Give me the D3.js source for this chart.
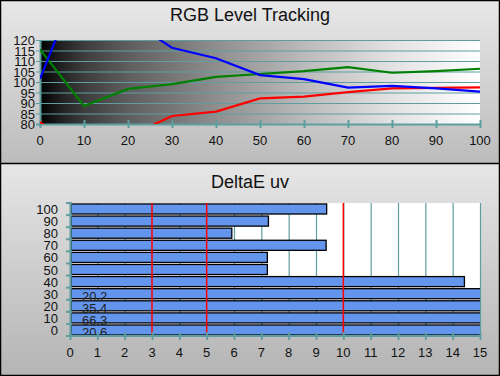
<!DOCTYPE html>
<html><head><meta charset="utf-8">
<script src="https://cdn.jsdelivr.net/npm/d3@7"></script>
<style>html,body{margin:0;padding:0;background:#fff}svg{display:block;font-family:"Liberation Sans",Arial,sans-serif}</style>
</head><body>
<script>
// ---- data ----
const levels = [0,10,20,30,40,50,60,70,80,90,100];
const redVals   = [81, 65, 74, 83.8, 85.9, 92.2, 93.0, 95.2, 97.0, 97.2, 97.4];
const greenVals = [115.5, 88.6, 96.7, 99.0, 102.4, 103.8, 105.2, 107.1, 104.4, 105.2, 106.3];
const blueVals  = [101.5, 154, 130, 116.3, 111.3, 103.3, 101.4, 97.3, 98.2, 97.0, 95.4];
const yTicksTop = [80,85,90,95,100,105,110,115,120];
const deCats = [0,10,20,30,40,50,60,70,80,90,100];
const deVals = [20.6, 66.3, 35.4, 20.2, 14.43, 7.22, 7.22, 9.37, 5.92, 7.26, 9.39];
const deTicks = d3.range(0,16);
const refLines = [3,5,10];

const W=500,H=376, teal="#5f9ea0";
const svg=d3.select("body").append("svg").attr("width",W).attr("height",H);
const defs=svg.append("defs");

function vgrad(id,c1,c2){const g=defs.append("linearGradient").attr("id",id).attr("x1",0).attr("y1",0).attr("x2",0).attr("y2",1);
 g.append("stop").attr("offset",0).attr("stop-color",c1);g.append("stop").attr("offset",1).attr("stop-color",c2);}
vgrad("bgTop","#e8e8e8","#bcbcbc");
vgrad("bgBot","#e6e6e6","#b4b4b4");
const hg=defs.append("linearGradient").attr("id","plotG").attr("x1",0).attr("y1",0).attr("x2",1).attr("y2",0);
[[0,"#000"],[0.05,"#222"],[0.1,"#3c3c3c"],[0.2,"#5e5e5e"],[0.4,"#8e8e8e"],[0.6,"#bababa"],[0.8,"#e2e2e2"],[1,"#fff"]]
 .forEach(([o,c])=>hg.append("stop").attr("offset",o).attr("stop-color",c));

svg.append("rect").attr("x",0).attr("y",0).attr("width",W).attr("height",163).attr("fill","url(#bgTop)");
svg.append("rect").attr("x",0).attr("y",163).attr("width",W).attr("height",H-163).attr("fill","url(#bgBot)");

// ---- top chart ----
const x1=d3.scaleLinear().domain([0,100]).range([40,480]);
const y1=d3.scaleLinear().domain([80,120]).range([124,40]);
svg.append("text").attr("x",250).attr("y",21).attr("text-anchor","middle").attr("font-size",18).attr("fill","#111").text("RGB Level Tracking");
svg.append("rect").attr("x",x1(0)).attr("y",y1(120)).attr("width",x1(100)-x1(0)).attr("height",y1(80)-y1(120)).attr("fill","url(#plotG)");
const gT=svg.append("g");
gT.selectAll("line.gy").data(yTicksTop).join("line").attr("x1",36).attr("x2",x1(100)).attr("y1",d=>y1(d)+0.5).attr("y2",d=>y1(d)+0.5).attr("stroke",teal).attr("stroke-width",d=>d===80?2:1.2);
gT.append("line").attr("x1",x1(0)+0.5).attr("x2",x1(0)+0.5).attr("y1",y1(120)).attr("y2",y1(80)+3).attr("stroke",teal).attr("stroke-width",2);
gT.selectAll("line.tx").data(levels).join("line").attr("x1",d=>x1(d)+0.5).attr("x2",d=>x1(d)+0.5).attr("y1",y1(80)-4).attr("y2",y1(80)+4).attr("stroke",teal).attr("stroke-width",2);
gT.selectAll("text.yl").data(yTicksTop).join("text").attr("x",35).attr("y",d=>y1(d)+5).attr("text-anchor","end").attr("font-size",13).attr("fill","#111").text(d=>d);
gT.selectAll("text.xl").data(levels).join("text").attr("x",d=>x1(d)).attr("y",145).attr("text-anchor","middle").attr("font-size",13).attr("fill","#111").text(d=>d);
defs.append("clipPath").attr("id","clipTop").append("rect").attr("x",x1(0)).attr("y",y1(120)).attr("width",x1(100)-x1(0)).attr("height",y1(80)-y1(120));
const line=d3.line().x((d,i)=>x1(levels[i])).y(d=>y1(d));
const lg=svg.append("g").attr("clip-path","url(#clipTop)");
[[greenVals,"#008000"],[redVals,"#ff0000"],[blueVals,"#0000ff"]].forEach(([v,c])=>
 lg.append("path").attr("d",line(v)).attr("fill","none").attr("stroke",c).attr("stroke-width",2.2));

// ---- bottom chart ----
const x2=d3.scaleLinear().domain([0,15]).range([70,480]);
const y2=d3.scaleBand().domain(deCats.slice().reverse()).range([203,336]).paddingInner(0.17).paddingOuter(0.08);
svg.append("text").attr("x",250).attr("y",188).attr("text-anchor","middle").attr("font-size",18).attr("fill","#111").text("DeltaE uv");
svg.append("rect").attr("x",x2(0)).attr("y",203).attr("width",x2(15)-x2(0)).attr("height",133).attr("fill","#fff");
const gB=svg.append("g");
gB.selectAll("line.gx").data(deTicks).join("line").attr("x1",d=>x2(d)+0.5).attr("x2",d=>x2(d)+0.5).attr("y1",203).attr("y2",336).attr("stroke",teal).attr("stroke-width",1.2);
defs.append("clipPath").attr("id","clipBot").append("rect").attr("x",x2(0)).attr("y",200).attr("width",x2(15)-x2(0)).attr("height",140);
gB.append("g").attr("clip-path","url(#clipBot)").selectAll("rect").data(deVals).join("rect")
 .attr("x",x2(0)+1).attr("y",(d,i)=>y2(deCats[i])).attr("height",y2.bandwidth())
 .attr("width",d=>x2(d)-x2(0)-1).attr("fill","#6495ed").attr("stroke","#000").attr("stroke-width",1.3);
gB.selectAll("line.rl").data(refLines).join("line").attr("x1",d=>x2(d)).attr("x2",d=>x2(d)).attr("y1",203).attr("y2",336).attr("stroke","#ff0000").attr("stroke-width",1.5);
gB.selectAll("text.ov").data(deVals.map((v,i)=>({v,c:deCats[i]})).filter(d=>d.v>15)).join("text")
 .attr("x",82).attr("y",d=>y2(d.c)+y2.bandwidth()/2+7).attr("font-size",13).attr("fill","#222").text(d=>d.v.toFixed(1));
// axes
gB.append("line").attr("x1",x2(0)).attr("x2",x2(15)+1).attr("y1",336).attr("y2",336).attr("stroke",teal).attr("stroke-width",2);
gB.append("line").attr("x1",x2(0)+0.5).attr("x2",x2(0)+0.5).attr("y1",203).attr("y2",337).attr("stroke",teal).attr("stroke-width",2);
gB.selectAll("line.tx").data(deTicks).join("line").attr("x1",d=>x2(d)+0.5).attr("x2",d=>x2(d)+0.5).attr("y1",332).attr("y2",340).attr("stroke",teal).attr("stroke-width",2);
const step=y2.step();
const bounds=d3.range(0,12).map(i=>203+y2.paddingOuter()*step - y2.paddingInner()*step/2 + i*step);
gB.selectAll("line.ty").data(d3.range(0,12)).join("line").attr("x1",66).attr("x2",72)
 .attr("y1",i=>Math.min(336,Math.max(203,203+ i*(133/11)))).attr("y2",i=>Math.min(336,Math.max(203,203+i*(133/11)))).attr("stroke",teal).attr("stroke-width",2);
gB.selectAll("text.yl").data(deCats).join("text").attr("x",58).attr("y",d=>y2(d)+y2.bandwidth()/2+5).attr("text-anchor","end").attr("font-size",13).attr("fill","#111").text(d=>d);
gB.selectAll("text.xl").data(deTicks).join("text").attr("x",d=>x2(d)).attr("y",357).attr("text-anchor","middle").attr("font-size",13).attr("fill","#111").text(d=>d);

// frame
svg.append("line").attr("x1",0).attr("x2",W).attr("y1",163.5).attr("y2",163.5).attr("stroke","#000").attr("stroke-width",1.5);
svg.append("rect").attr("x",0.5).attr("y",0.5).attr("width",W-1).attr("height",H-1).attr("fill","none").attr("stroke","#000").attr("stroke-width",1.5);
</script>
</body></html>
